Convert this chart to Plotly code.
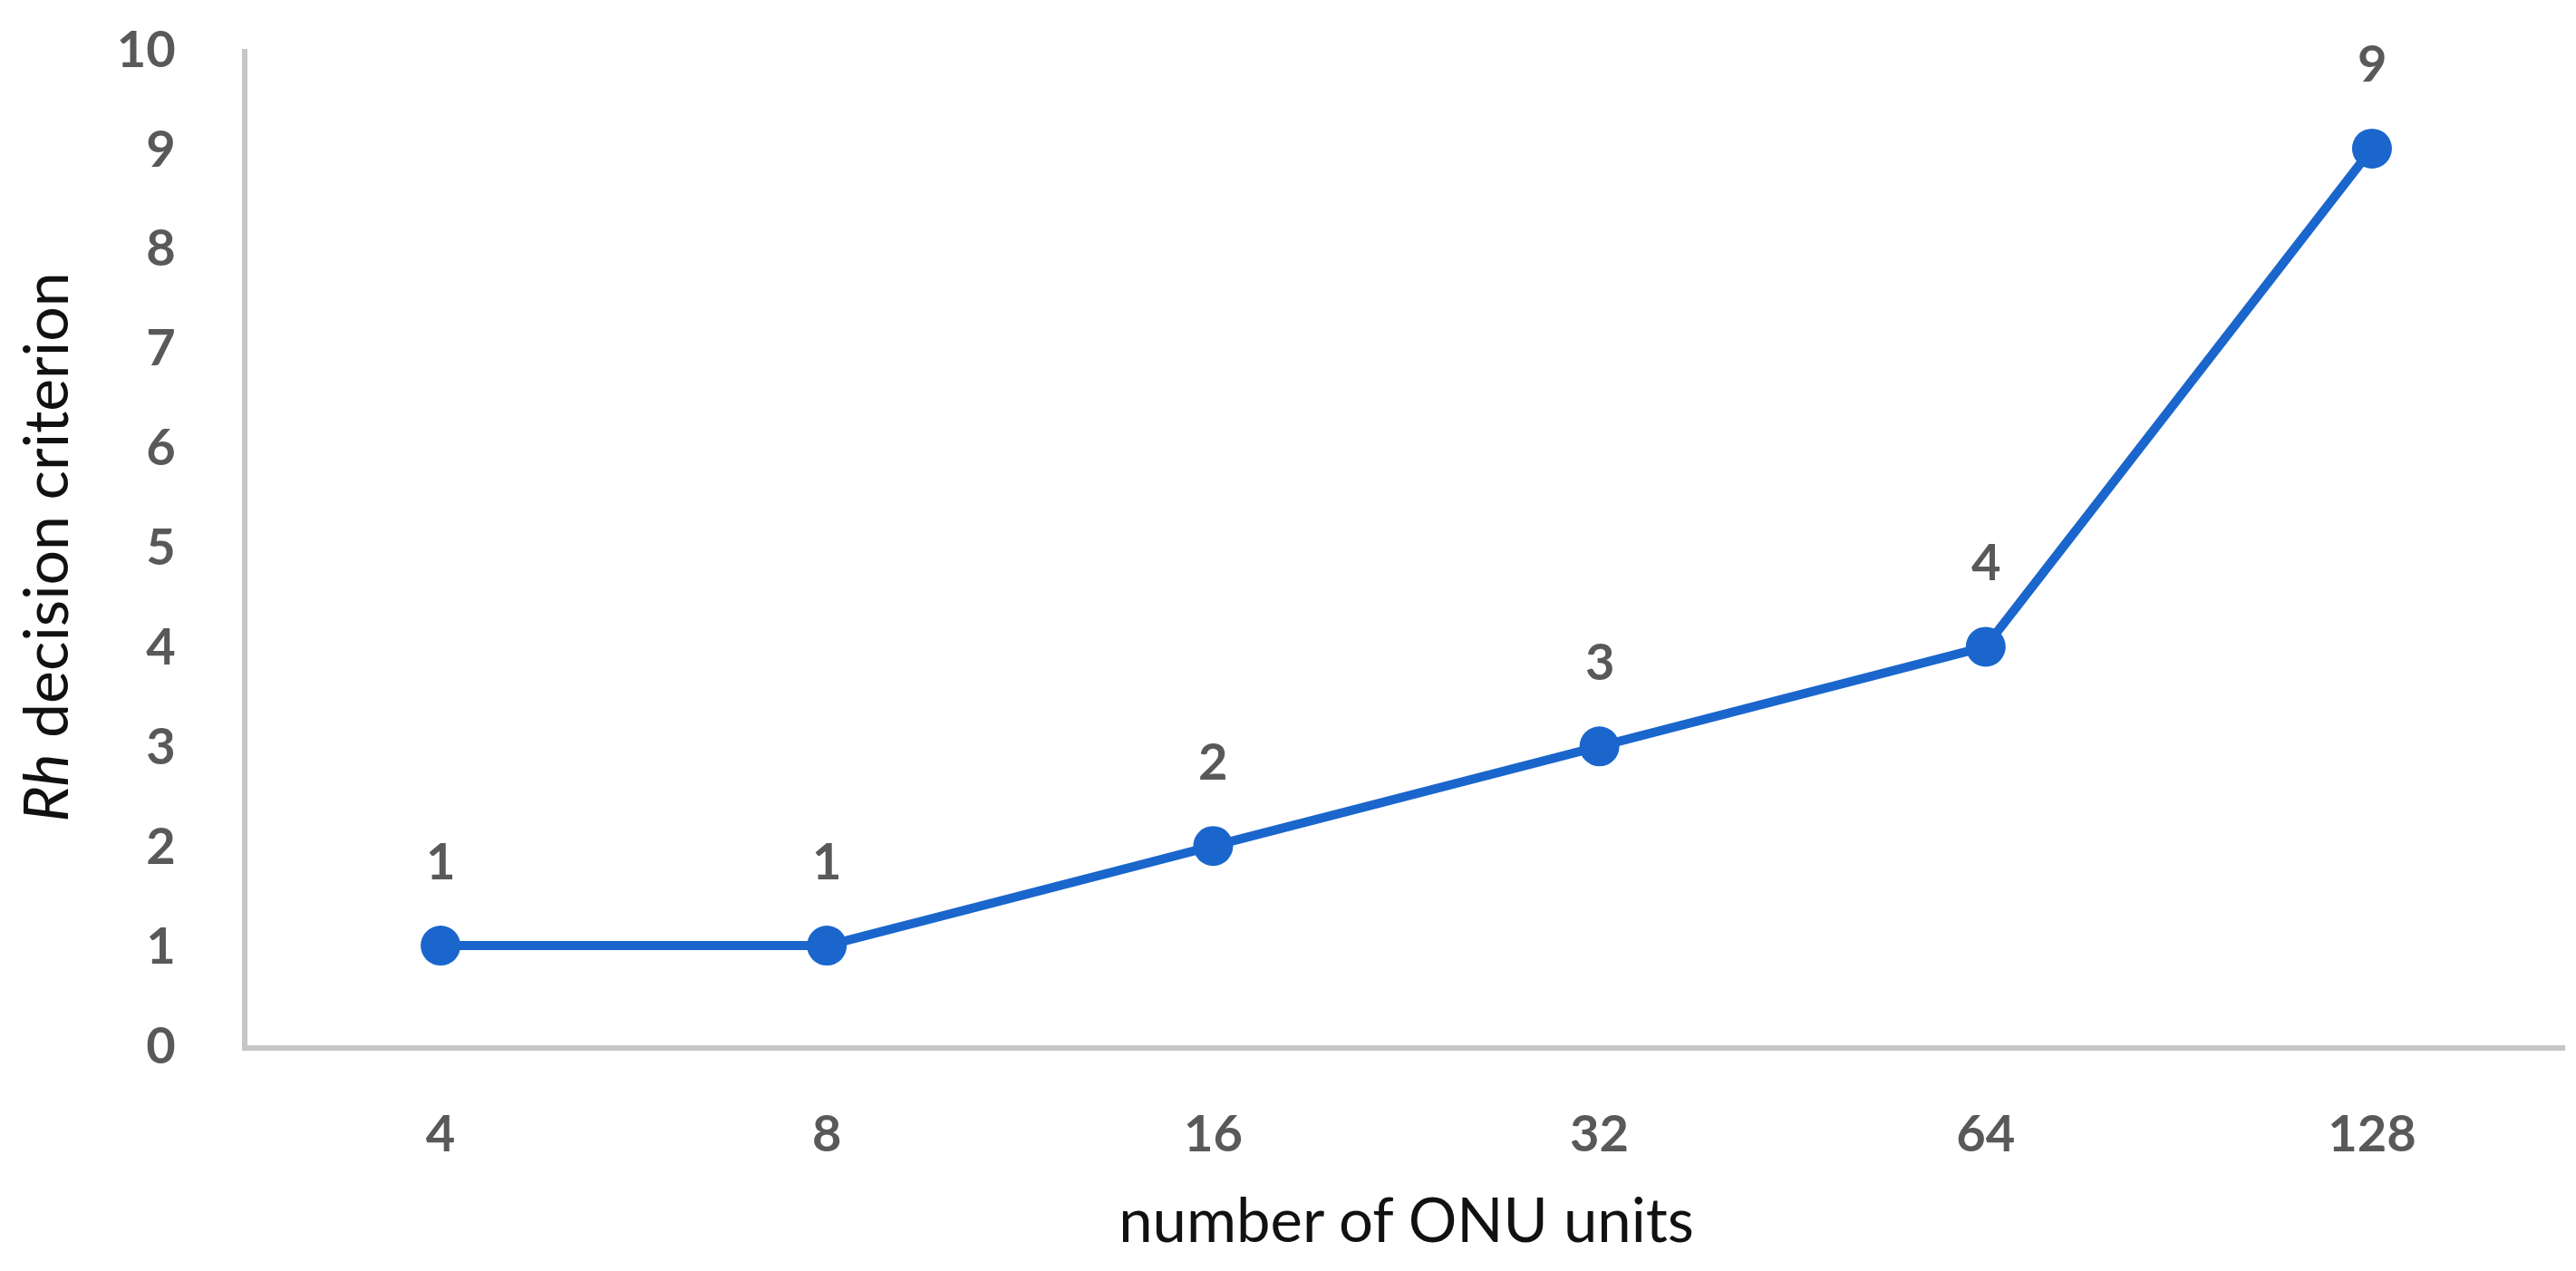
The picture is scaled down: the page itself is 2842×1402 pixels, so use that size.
import plotly.graph_objects as go

categories = ["4", "8", "16", "32", "64", "128"]
rh_values = [1, 1, 2, 3, 4, 9]
y_ticks = [0, 1, 2, 3, 4, 5, 6, 7, 8, 9, 10]

LINE_COLOR = "#1A66CC"
TICK_COLOR = "#595959"
FONT = "Lato"

fig = go.Figure()
fig.add_trace(go.Scatter(
    x=categories, y=rh_values, mode="lines+markers",
    line=dict(color=LINE_COLOR, width=10),
    marker=dict(color=LINE_COLOR, size=44),
    showlegend=False, cliponaxis=False,
))

for i, v in enumerate(rh_values):
    fig.add_annotation(x=i, y=v, xref="x", yref="y", text=str(v), showarrow=False, yshift=95,
                       font=dict(family=FONT, size=56, color=TICK_COLOR, weight="bold"))

fig.update_layout(
    width=2842, height=1402,
    margin=dict(l=265, r=20, t=46, b=257),
    paper_bgcolor="white", plot_bgcolor="white",
    xaxis=dict(
        type="category", range=[-0.5, 5.5],
        showline=True, linecolor="#C6C6C6", linewidth=6,
        showgrid=False, zeroline=False, ticks="",
        ticklabelstandoff=44,
        tickfont=dict(family=FONT, size=56, color=TICK_COLOR, weight="bold"),
        title=dict(text="number of ONU units", standoff=44,
                   font=dict(family=FONT, size=67, color="#111111")),
    ),
    yaxis=dict(
        range=[0, 10], tickvals=y_ticks,
        showline=True, linecolor="#C6C6C6", linewidth=6,
        showgrid=False, zeroline=False, ticks="",
        ticklabelstandoff=62,
        tickfont=dict(family=FONT, size=56, color=TICK_COLOR, weight="bold"),
        title=dict(text="<i>Rh</i> decision criterion", standoff=58,
                   font=dict(family=FONT, size=68, color="#111111")),
    ),
)

fig.write_html("out.html")
